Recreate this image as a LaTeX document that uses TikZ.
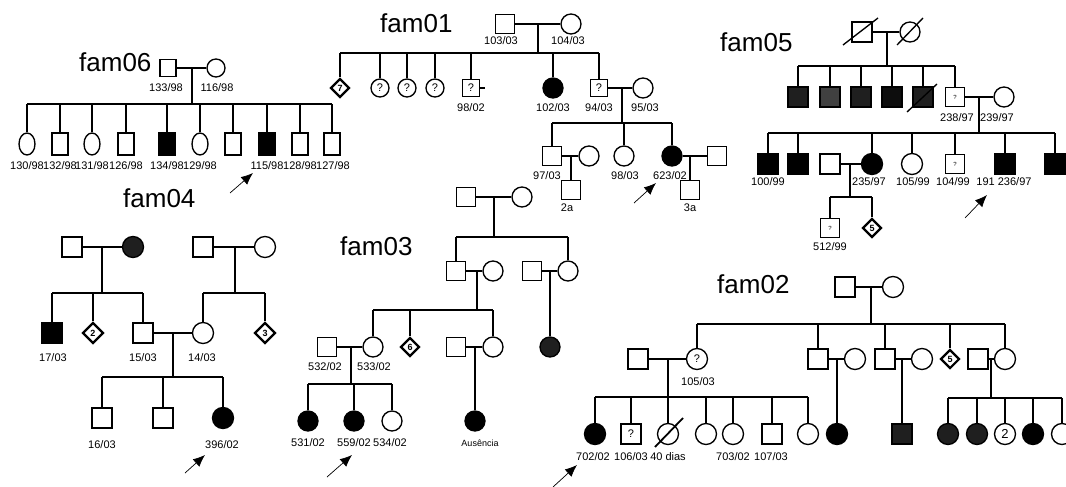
\documentclass[tikz,border=0pt]{standalone}
\usepackage{fontspec}
\setmainfont{Liberation Sans}
\usetikzlibrary{shapes.geometric,arrows.meta}
\begin{document}
\begin{tikzpicture}[x=1pt,y=-1pt,
  every node/.style={inner sep=0pt},
  ln/.style={line width=1.35pt},
  sq/.style={draw,line width=1.35pt,rectangle,minimum size=19pt,fill=white,font=\fontsize{11}{11}\selectfont},
  ci/.style={draw,line width=1.35pt,circle,minimum size=20pt,fill=white,font=\fontsize{11}{11}\selectfont},
  di/.style={draw,line width=2.2pt,diamond,minimum width=19pt,minimum height=19pt,fill=white,font=\fontsize{9}{9}\selectfont\bfseries},
  ov/.style={draw,line width=1.35pt,ellipse,minimum width=16pt,minimum height=22pt,fill=white},
  rq/.style={draw,line width=1.35pt,rectangle,minimum width=16pt,minimum height=22pt,fill=white},
  aff/.style={fill=black},
  dark/.style={fill=black!88},
  tq/.style={font=\fontsize{6}{6}\selectfont},
  lbl/.style={font=\fontsize{11}{11}\selectfont},
  fam/.style={font=\fontsize{26}{26}\selectfont,anchor=base west},
  arr/.style={line width=0.7pt,-{Latex[length=12pt,width=10pt]}},
]
\useasboundingbox (0,0) rectangle (1066,487);

% ---------------- fam06
\node[fam] (t6) at (79,72) {fam06};
\node[sq,minimum width=16pt,minimum height=17pt] (f6) at (168,68) {};
\node[ci,minimum size=18pt] (m6) at (216,68) {};
\draw[ln] (f6) -- (m6);
\node[lbl] (l6a) at (166,88) {133/98};
\node[lbl] (l6b) at (217,88) {116/98};
\coordinate (d6) at (192,68); \coordinate (s6) at (192,104);
\draw[ln] (d6) -- (s6);
\node[ov] (c6a) at (27,144) {};
\node[rq] (c6b) at (60,144) {};
\node[ov] (c6c) at (92,144) {};
\node[rq] (c6d) at (126,144) {};
\node[rq,aff] (c6e) at (167,144) {};
\node[ov] (c6f) at (200,144) {};
\node[rq] (c6g) at (233,144) {};
\node[rq,aff] (c6h) at (267,144) {};
\node[rq] (c6i) at (300,144) {};
\node[rq] (c6j) at (332,144) {};
\draw[ln] (c6a.north |- s6) -- (c6j.north |- s6);
\foreach \kid in {c6a,c6b,c6c,c6d,c6e,c6f,c6g,c6h,c6i,c6j} \draw[ln] (\kid.north) -- (\kid.north |- s6);
\node[lbl] (l6c) at (27,166) {130/98};
\node[lbl] (l6d) at (60,166) {132/98};
\node[lbl] (l6e) at (92,166) {131/98};
\node[lbl] (l6f) at (126,166) {126/98};
\node[lbl] (l6g) at (167,166) {134/98};
\node[lbl] (l6h) at (200,166) {129/98};
\node[lbl] (l6i) at (267,166) {115/98};
\node[lbl] (l6j) at (300,166) {128/98};
\node[lbl] (l6k) at (333,166) {127/98};
\coordinate (a6t) at (230,193); \coordinate (a6h) at (253,173);
\draw[arr] (a6t) -- (a6h);

% ---------------- fam01
\node[fam] (t1) at (380,33) {fam01};
\node[sq] (f1) at (505,24) {};
\node[ci] (m1) at (571,24) {};
\draw[ln] (f1) -- (m1);
\node[lbl] (l1a) at (501,41) {103/03};
\node[lbl] (l1b) at (568,41) {104/03};
\coordinate (d1) at (538,24); \coordinate (s1) at (538,53);
\draw[ln] (d1) -- (s1);
\node[di] (c1a) at (340,88) {7};
\node[ci,minimum size=18pt] (c1b) at (380,88) {?};
\node[ci,minimum size=18pt] (c1c) at (407,88) {?};
\node[ci,minimum size=18pt] (c1d) at (435,88) {?};
\node[sq,minimum size=17pt] (c1e) at (471,88) {?};
\node[ci,aff] (c1f) at (553,88) {};
\node[sq,minimum size=17pt] (c1g) at (599,88) {?};
\node[ci] (w1g) at (643,88) {};
\draw[ln] (c1e.east) -- ++(5,0);
\draw[ln] (c1a.north |- s1) -- (c1g.north |- s1);
\foreach \kid in {c1a,c1b,c1c,c1d,c1e,c1f,c1g} \draw[ln] (\kid.north) -- (\kid.north |- s1);
\draw[ln] (c1g) -- (w1g);
\node[lbl] (l1c) at (471,108) {98/02};
\node[lbl] (l1d) at (553,108) {102/03};
\node[lbl] (l1e) at (599,108) {94/03};
\node[lbl] (l1f) at (645,108) {95/03};
\coordinate (d1b) at (622,88); \coordinate (s1b) at (622,123);
\draw[ln] (d1b) -- (s1b);
\node[sq] (c1h) at (552,156) {};
\node[ci] (w1h) at (589,156) {};
\node[ci] (c1i) at (624,156) {};
\node[ci,aff] (c1j) at (672,156) {};
\node[sq] (w1j) at (717,156) {};
\draw[ln] (c1h.north |- s1b) -- (c1j.north |- s1b);
\foreach \kid in {c1h,c1i,c1j} \draw[ln] (\kid.north) -- (\kid.north |- s1b);
\draw[ln] (c1h) -- (w1h);
\draw[ln] (c1j) -- (w1j);
\node[lbl] (l1g) at (547,176) {97/03};
\node[lbl] (l1h) at (625,176) {98/03};
\node[lbl] (l1i) at (670,176) {623/02};
\node[sq] (g1a) at (571,190) {};
\node[sq] (g1b) at (690,190) {};
\coordinate (d1c) at (571,156); \coordinate (d1d) at (690,156);
\draw[ln] (d1c) -- (g1a.north);
\draw[ln] (d1d) -- (g1b.north);
\node[lbl] (l1j) at (567,208) {2a};
\node[lbl] (l1k) at (690,208) {3a};
\coordinate (a1t) at (634,203); \coordinate (a1h) at (656,183);
\draw[arr] (a1t) -- (a1h);

% ---------------- fam05
\node[fam] (t5) at (720,52) {fam05};
\node[sq,minimum size=20pt] (f5) at (862,32) {};
\node[ci] (m5) at (910,32) {};
\draw[ln] (f5) -- (m5);
\draw[ln] ([shift={(-19,13)}]f5.center) -- ([shift={(16,-14)}]f5.center);
\draw[ln] ([shift={(-13,13)}]m5.center) -- ([shift={(13,-14)}]m5.center);
\coordinate (d5) at (887,32); \coordinate (s5) at (887,66);
\draw[ln] (d5) -- (s5);
\node[sq,minimum size=20pt,dark] (c5a) at (798,97) {};
\node[sq,minimum size=20pt,fill=black!75] (c5b) at (830,97) {};
\node[sq,minimum size=20pt,dark] (c5c) at (861,97) {};
\node[sq,minimum size=20pt,fill=black!95] (c5d) at (892,97) {};
\node[sq,minimum size=20pt,dark] (c5e) at (923,97) {};
\node[sq,tq] (c5f) at (955,97) {?};
\node[ci] (w5f) at (1004,97) {};
\draw[ln] ([shift={(-16,15)}]c5e.center) -- ([shift={(14,-13)}]c5e.center);
\draw[ln] (c5a.north |- s5) -- (c5f.north |- s5);
\foreach \kid in {c5a,c5b,c5c,c5d,c5e,c5f} \draw[ln] (\kid.north) -- (\kid.north |- s5);
\draw[ln] (c5f) -- (w5f);
\node[lbl] (l5a) at (957,118) {238/97};
\node[lbl] (l5b) at (997,118) {239/97};
\coordinate (d5b) at (979,97); \coordinate (s5b) at (979,133);
\draw[ln] (d5b) -- (s5b);
\node[sq,minimum size=20pt,aff] (c5g) at (768,164) {};
\node[sq,minimum size=20pt,aff] (c5h) at (798,164) {};
\node[sq,minimum size=20pt] (w5i) at (830,164) {};
\node[ci,minimum size=21pt,aff] (c5i) at (872,164) {};
\node[ci,minimum size=21pt] (c5j) at (912,164) {};
\node[sq,tq] (c5k) at (955,164) {?};
\node[sq,minimum size=20pt,aff] (c5l) at (1005,164) {};
\node[sq,minimum size=20pt,aff] (c5m) at (1055,164) {};
\draw[ln] (c5g.north |- s5b) -- (c5m.north |- s5b);
\foreach \kid in {c5g,c5h,c5i,c5j,c5k,c5l,c5m} \draw[ln] (\kid.north) -- (\kid.north |- s5b);
\draw[ln] (w5i) -- (c5i);
\node[lbl] (l5c) at (768,182) {100/99};
\node[lbl] (l5d) at (869,182) {235/97};
\node[lbl] (l5e) at (913,182) {105/99};
\node[lbl] (l5f) at (953,182) {104/99};
\node[lbl] (l5g) at (1004,182) {191 236/97};
\coordinate (d5c) at (850,164); \coordinate (s5c) at (850,197);
\draw[ln] (d5c) -- (s5c);
\node[sq,tq] (g5a) at (830,228) {?};
\node[di] (g5b) at (872,228) {5};
\draw[ln] (g5a.north |- s5c) -- (g5b.north |- s5c);
\foreach \kid in {g5a,g5b} \draw[ln] (\kid.north) -- (\kid.north |- s5c);
\node[lbl] (l5h) at (830,247) {512/99};
\coordinate (a5t) at (965,218); \coordinate (a5h) at (987,195);
\draw[arr] (a5t) -- (a5h);

% ---------------- fam04
\node[fam] (t4) at (123,207) {fam04};
\node[sq,minimum size=20pt] (f4a) at (72,247) {};
\node[ci,minimum size=21pt,dark] (m4a) at (133,247) {};
\draw[ln] (f4a) -- (m4a);
\node[sq,minimum size=20pt] (f4b) at (203,247) {};
\node[ci,minimum size=21pt] (m4b) at (265,247) {};
\draw[ln] (f4b) -- (m4b);
\coordinate (d4a) at (102,247); \coordinate (s4a) at (102,293);
\coordinate (d4b) at (235,247); \coordinate (s4b) at (235,293);
\draw[ln] (d4a) -- (s4a);
\draw[ln] (d4b) -- (s4b);
\node[sq,minimum size=20pt,aff] (c4a) at (52,333) {};
\node[di,minimum width=21pt,minimum height=21pt] (c4b) at (93,333) {2};
\node[sq,minimum size=20pt] (c4c) at (143,333) {};
\node[ci,minimum size=21pt] (c4d) at (203,333) {};
\node[di,minimum width=21pt,minimum height=21pt] (c4e) at (265,333) {3};
\draw[ln] (c4a.north |- s4a) -- (c4c.north |- s4a);
\foreach \kid in {c4a,c4b,c4c} \draw[ln] (\kid.north) -- (\kid.north |- s4a);
\draw[ln] (c4d.north |- s4b) -- (c4e.north |- s4b);
\foreach \kid in {c4d,c4e} \draw[ln] (\kid.north) -- (\kid.north |- s4b);
\draw[ln] (c4c) -- (c4d);
\node[lbl] (l4a) at (53,358) {17/03};
\node[lbl] (l4b) at (143,358) {15/03};
\node[lbl] (l4c) at (202,358) {14/03};
\coordinate (d4c) at (173,333); \coordinate (s4c) at (173,377);
\draw[ln] (d4c) -- (s4c);
\node[sq,minimum size=20pt] (g4a) at (102,418) {};
\node[sq,minimum size=20pt] (g4b) at (163,418) {};
\node[ci,minimum size=21pt,aff] (g4c) at (223,418) {};
\draw[ln] (g4a.north |- s4c) -- (g4c.north |- s4c);
\foreach \kid in {g4a,g4b,g4c} \draw[ln] (\kid.north) -- (\kid.north |- s4c);
\node[lbl] (l4d) at (102,445) {16/03};
\node[lbl] (l4e) at (222,445) {396/02};
\coordinate (a4t) at (185,473); \coordinate (a4h) at (205,455);
\draw[arr] (a4t) -- (a4h);

% ---------------- fam03
\node[fam] (t3) at (340,255) {fam03};
\node[sq] (f3) at (466,197) {};
\node[ci] (m3) at (522,197) {};
\draw[ln] (f3) -- (m3);
\coordinate (d3) at (494,197); \coordinate (s3) at (494,237);
\draw[ln] (d3) -- (s3);
\node[sq] (c3a) at (456,271) {};
\node[ci] (w3a) at (493,271) {};
\node[sq] (w3b) at (532,271) {};
\node[ci] (c3b) at (568,271) {};
\draw[ln] (c3a.north |- s3) -- (c3b.north |- s3);
\foreach \kid in {c3a,c3b} \draw[ln] (\kid.north) -- (\kid.north |- s3);
\draw[ln] (c3a) -- (w3a);
\draw[ln] (w3b) -- (c3b);
\coordinate (d3a) at (477,271); \coordinate (s3a) at (477,310);
\draw[ln] (d3a) -- (s3a);
\node[sq] (w3c) at (327,347) {};
\node[ci] (c3c) at (373,347) {};
\node[di] (c3d) at (410,347) {6};
\node[sq] (w3e) at (456,347) {};
\node[ci] (c3e) at (493,347) {};
\draw[ln] (c3c.north |- s3a) -- (c3e.north |- s3a);
\foreach \kid in {c3c,c3d,c3e} \draw[ln] (\kid.north) -- (\kid.north |- s3a);
\draw[ln] (w3c) -- (c3c);
\draw[ln] (w3e) -- (c3e);
\node[ci,dark] (g3x) at (550,347) {};
\coordinate (d3b) at (550,271);
\draw[ln] (d3b) -- (g3x.north);
\node[lbl] (l3a) at (325,367) {532/02};
\node[lbl] (l3b) at (374,367) {533/02};
\coordinate (d3c) at (351,347); \coordinate (s3c) at (351,384);
\draw[ln] (d3c) -- (s3c);
\node[ci,aff] (g3a) at (308,421) {};
\node[ci,aff] (g3b) at (354,421) {};
\node[ci] (g3c) at (392,421) {};
\draw[ln] (g3a.north |- s3c) -- (g3c.north |- s3c);
\foreach \kid in {g3a,g3b,g3c} \draw[ln] (\kid.north) -- (\kid.north |- s3c);
\node[ci,aff] (g3d) at (475,421) {};
\coordinate (d3d) at (475,347);
\draw[ln] (d3d) -- (g3d.north);
\node[lbl] (l3c) at (308,443) {531/02};
\node[lbl] (l3d) at (354,443) {559/02};
\node[lbl] (l3e) at (390,443) {534/02};
\node[lbl,font=\fontsize{9}{9}\selectfont] (l3f) at (480,443) {Ausência};
\coordinate (a3t) at (327,477); \coordinate (a3h) at (352,455);
\draw[arr] (a3t) -- (a3h);

% ---------------- fam02
\node[fam] (t2) at (717,293) {fam02};
\node[sq,minimum size=20pt] (f2) at (845,287) {};
\node[ci,minimum size=21pt] (m2) at (893,287) {};
\draw[ln] (f2) -- (m2);
\coordinate (d2) at (871,287); \coordinate (s2) at (871,324);
\draw[ln] (d2) -- (s2);
\node[sq,minimum size=20pt] (w2a) at (638,359) {};
\node[ci,minimum size=21pt] (c2a) at (697,359) {?};
\node[sq,minimum size=20pt] (c2b) at (818,359) {};
\node[ci,minimum size=21pt] (w2b) at (855,359) {};
\node[sq,minimum size=20pt] (c2c) at (885,359) {};
\node[ci,minimum size=21pt] (w2c) at (922,359) {};
\node[di] (c2d) at (950,359) {5};
\node[sq,minimum size=20pt] (w2e) at (978,359) {};
\node[ci,minimum size=21pt] (c2e) at (1005,359) {};
\draw[ln] (c2a.north |- s2) -- (c2e.north |- s2);
\foreach \kid in {c2a,c2b,c2c,c2d,c2e} \draw[ln] (\kid.north) -- (\kid.north |- s2);
\draw[ln] (w2a) -- (c2a);
\draw[ln] (c2b) -- (w2b);
\draw[ln] (c2c) -- (w2c);
\draw[ln] (w2e) -- (c2e);
\node[lbl] (l2a) at (698,382) {105/03};
\coordinate (d2a) at (668,359); \coordinate (s2a) at (668,397);
\draw[ln] (d2a) -- (s2a);
\node[ci,minimum size=21pt,aff] (g2a) at (595,434) {};
\node[sq,minimum size=20pt] (g2b) at (631,434) {?};
\node[ci,minimum size=21pt] (g2c) at (668,434) {};
\node[ci,minimum size=21pt] (g2d) at (706,434) {};
\node[ci,minimum size=21pt] (g2e) at (733,434) {};
\node[sq,minimum size=20pt] (g2f) at (772,434) {};
\node[ci,minimum size=21pt] (g2g) at (808,434) {};
\draw[line width=1.8pt] ([shift={(-13,13)}]g2c.center) -- ([shift={(15,-16)}]g2c.center);
\draw[ln] (g2a.north |- s2a) -- (g2g.north |- s2a);
\foreach \kid in {g2a,g2b,g2c,g2d,g2e,g2f,g2g} \draw[ln] (\kid.north) -- (\kid.north |- s2a);
\node[lbl] (l2b) at (593,457) {702/02};
\node[lbl] (l2c) at (631,457) {106/03};
\node[lbl] (l2d) at (668,457) {40 dias};
\node[lbl] (l2e) at (733,457) {703/02};
\node[lbl] (l2f) at (771,457) {107/03};
\node[ci,minimum size=21pt,aff] (h2a) at (837,434) {};
\coordinate (d2b) at (837,359);
\draw[ln] (d2b) -- (h2a.north);
\node[sq,minimum size=20pt,dark] (h2b) at (902,434) {};
\coordinate (d2c) at (902,359);
\draw[ln] (d2c) -- (h2b.north);
\coordinate (d2e) at (991,359); \coordinate (s2e) at (991,398);
\draw[ln] (d2e) -- (s2e);
\node[ci,minimum size=21pt,dark] (k2a) at (948,434) {};
\node[ci,minimum size=21pt,dark] (k2b) at (977,434) {};
\node[ci,minimum size=21pt,font=\fontsize{13}{13}\selectfont] (k2c) at (1005,434) {2};
\node[ci,minimum size=21pt,aff] (k2d) at (1033,434) {};
\node[ci,minimum size=21pt] (k2e) at (1062,434) {};
\draw[ln] (k2a.north |- s2e) -- (k2e.north |- s2e);
\foreach \kid in {k2a,k2b,k2c,k2d,k2e} \draw[ln] (\kid.north) -- (\kid.north |- s2e);
\coordinate (a2t) at (553,487); \coordinate (a2h) at (577,465);
\draw[arr] (a2t) -- (a2h);
\end{tikzpicture}
\end{document}
